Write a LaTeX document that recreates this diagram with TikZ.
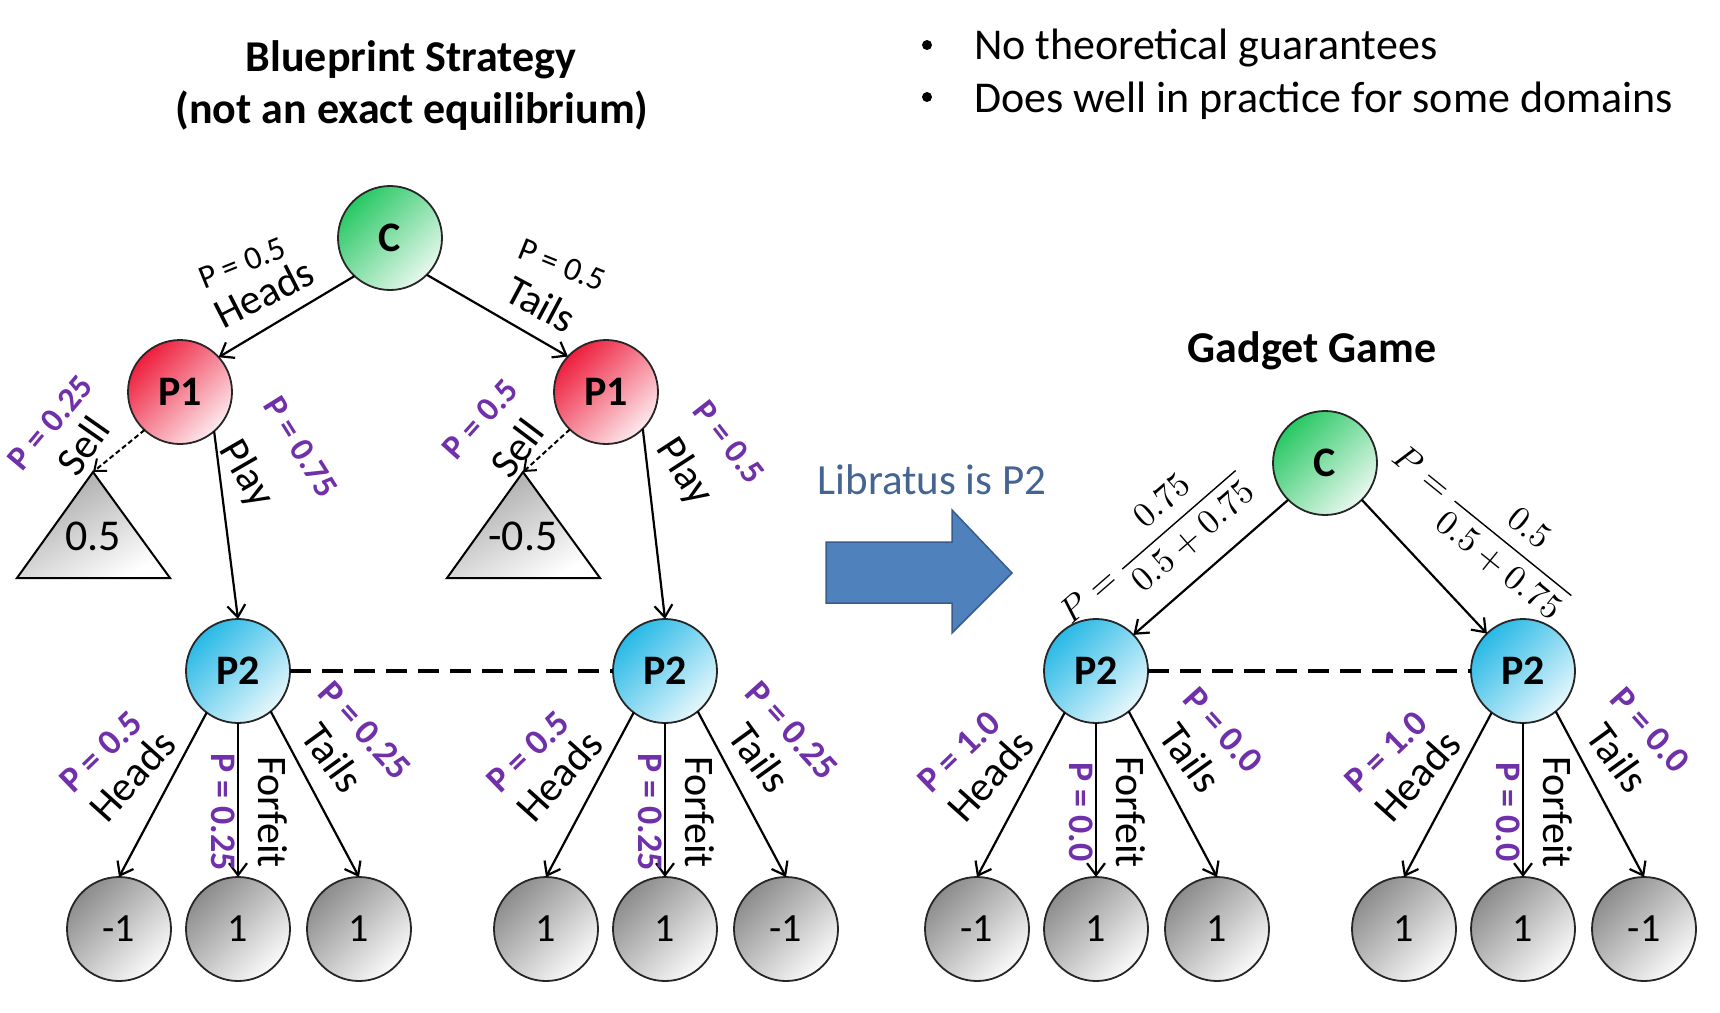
\documentclass[tikz,border=0pt]{standalone}
\usepackage{fontspec}
\usepackage{unicode-math}
\setmainfont{Carlito}
\usetikzlibrary{arrows.meta,shapes.geometric}
\newcommand\fsz[1]{\fontsize{#1}{#1}\selectfont}
\definecolor{purp}{RGB}{112,48,170}
\definecolor{cgA}{RGB}{40,200,100}
\definecolor{cgB}{RGB}{232,248,238}
\definecolor{poA}{RGB}{238,30,60}
\definecolor{poB}{RGB}{253,234,238}
\definecolor{ptA}{RGB}{40,185,230}
\definecolor{ptB}{RGB}{230,247,252}
\definecolor{lfA}{RGB}{140,140,140}
\definecolor{lfB}{RGB}{250,250,250}
\definecolor{arrblue}{RGB}{79,129,189}
\definecolor{arrborder}{RGB}{56,93,138}
\definecolor{libc}{RGB}{68,100,145}
\begin{document}
\begin{tikzpicture}[x=1pt,y=-1pt,
  every node/.style={inner sep=0pt, outer sep=0pt},
  gnode/.style={circle, draw=black!85, line width=1.8pt, minimum size=104pt, font=\fsz{42}\bfseries},
  chance/.style={gnode, top color=cgA, bottom color=cgB, shading angle=45},
  pone/.style={gnode, top color=poA, bottom color=poB, shading angle=45},
  ptwo/.style={gnode, top color=ptA, bottom color=ptB, shading angle=45},
  leaf/.style={gnode, font=\fsz{40}, top color=lfA, bottom color=lfB, shading angle=45},
  tri/.style={draw=black, line width=2pt, line join=miter, top color=black!35, bottom color=white, shading angle=30},
  tval/.style={font=\fsz{44}},
  lbl/.style={font=\fsz{42}},
  pblk/.style={font=\fsz{33}},
  plbl/.style={font=\fsz{36}\bfseries, text=purp},
  plbls/.style={font=\fsz{34}\bfseries, text=purp},
  ttl/.style={font=\fsz{44}\bfseries, anchor=base},
  arr/.style={line width=2.2pt, -{Straight Barb[length=12pt,width=18pt]}},
  sellarr/.style={line width=2pt, dash pattern=on 5pt off 3pt, -{Straight Barb[length=10pt,width=16pt]}},
  infoset/.style={line width=4pt, dash pattern=on 21pt off 11pt}]
\fill[white] (0,0) rectangle (1720,1012);
\useasboundingbox (0,0) rectangle (1720,1012);

% titles and text
\node[ttl] (t1) at (411,71) {Blueprint Strategy};
\node[ttl] (t2) at (412,123) {(not an exact equilibrium)};
\node[ttl] (t3) at (1312,362) {Gadget Game};
\node[circle, fill=black, minimum size=10pt] (d1) at (927,45) {};
\node[circle, fill=black, minimum size=10pt] (d2) at (927,97) {};
\node[anchor=base west, font=\fsz{44}] (b1) at (974,59) {No theoretical guarantees};
\node[anchor=base west, font=\fsz{44}] (b2) at (974,112) {Does well in practice for some domains};
\node[anchor=base, font=\fsz{43}, text=libc] (lib) at (932,494) {Libratus is P2};
\draw[fill=arrblue, draw=arrborder, line width=1.5pt, line join=miter]
  (826,542) -- (952,542) -- (952,510) -- (1012,573) -- (952,633) -- (952,603) -- (826,603) -- cycle;

% left tree
\node[chance] (cl) at (390,238) {C};
\node[pone] (p1a) at (180,392) {P1};
\node[pone] (p1b) at (606,392) {P1};
\coordinate (ta) at (93,472);
\coordinate (tb) at (523,472);
\draw[tri] (ta) -- (170,578) -- (17,578) -- cycle;
\draw[tri] (tb) -- (600,578) -- (447,578) -- cycle;
\node[tval] (tv1) at (93,536) {0.5};
\node[tval] (tv2) at (523,536) {-0.5};
\node[ptwo] (p2a) at (238,671) {P2};
\node[ptwo] (p2b) at (665,671) {P2};

% gadget tree
\node[chance] (cg) at (1325,463) {C};
\node[ptwo] (p2c) at (1096,671) {P2};
\node[ptwo] (p2d) at (1523,671) {P2};

% leaves
\node[leaf] (la) at (119,929) {-1};
\node[leaf] (lb) at (238,929) {1};
\node[leaf] (lc) at (359,929) {1};
\node[leaf] (ld) at (546,929) {1};
\node[leaf] (le) at (665,929) {1};
\node[leaf] (lf) at (786,929) {-1};
\node[leaf] (lg) at (977,929) {-1};
\node[leaf] (lh) at (1096,929) {1};
\node[leaf] (li) at (1217,929) {1};
\node[leaf] (lj) at (1404,929) {1};
\node[leaf] (lk) at (1523,929) {1};
\node[leaf] (ll) at (1644,929) {-1};

% connectors
\draw[arr] (cl.-133) -- (p1a.42);
\draw[arr] (cl.-45) -- (p1b.137);
\draw[sellarr] (p1a.-133) -- (ta);
\draw[sellarr] (p1b.-134) -- (tb);
\draw[arr] (p1a.-49) -- (p2a.north);
\draw[arr] (p1b.-45) -- (p2b.north);
\draw[arr] (cg.-135) -- (p2c.44);
\draw[arr] (cg.-45) -- (p2d.134);
\draw[infoset] (p2a.east) -- (p2b.west);
\draw[infoset] (p2c.east) -- (p2d.west);
\foreach \p/\a/\b/\c in {p2a/la/lb/lc, p2b/ld/le/lf, p2c/lg/lh/li, p2d/lj/lk/ll} {
  \draw[arr] (\p.-127) -- (\a.north);
  \draw[arr] (\p.south) -- (\b.north);
  \draw[arr] (\p.-51) -- (\c.north);
}

% labels, left tree top
\node[pblk, rotate=22] (pc1) at (242,263) {P = 0.5};
\node[lbl, rotate=27] (hc1) at (264,293) {Heads};
\node[pblk, rotate=-22] (pc2) at (562,265) {P = 0.5};
\node[lbl, rotate=-28] (tc1) at (541,304) {Tails};
\node[plbls, rotate=50] (ps1) at (50,423) {P = 0.25};
\node[lbl, rotate=55] (s1) at (83,446) {Sell};
\node[lbl, rotate=-60] (pl1) at (246,474) {Play};
\node[plbls, rotate=-58] (pp1) at (301,447) {P = 0.75};
\node[plbls, rotate=48] (ps2) at (480,419) {P = 0.5};
\node[lbl, rotate=53] (s2) at (517,448) {Sell};
\node[lbl, rotate=-57] (pl2) at (684,472) {Play};
\node[plbls, rotate=-52] (pp2) at (729,442) {P = 0.5};

% labels under P2 nodes
\foreach \x/\n/\ph/\pf/\pt in {238/a/0.5/0.25/0.25, 665/b/0.5/0.25/0.25, 1096/c/1.0/0.0/0.0, 1523/d/1.0/0.0/0.0} {
  \node[plbl, rotate=44] (ph\n) at (\x-137,752) {P = \ph};
  \node[lbl, rotate=48] (h\n) at (\x-106,776) {Heads};
  \node[plbl, rotate=-90] (pf\n) at (\x-15,812) {P = \pf};
  \node[lbl, rotate=-90] (f\n) at (\x+35,812) {Forfeit};
  \node[lbl, rotate=-54] (t\n) at (\x+95,758) {Tails};
  \node[plbl, rotate=-48] (pt\n) at (\x+127,730) {P = \pt};
}

% gadget fractions
\node[rotate=41, font=\fsz{35}] (fl) at (1150,543) {$P = \dfrac{0.75}{0.5 + 0.75}$};
\node[rotate=-39, font=\fsz{35}] (fr) at (1485,524) {$P = \dfrac{0.5}{0.5 + 0.75}$};
\end{tikzpicture}
\end{document}
